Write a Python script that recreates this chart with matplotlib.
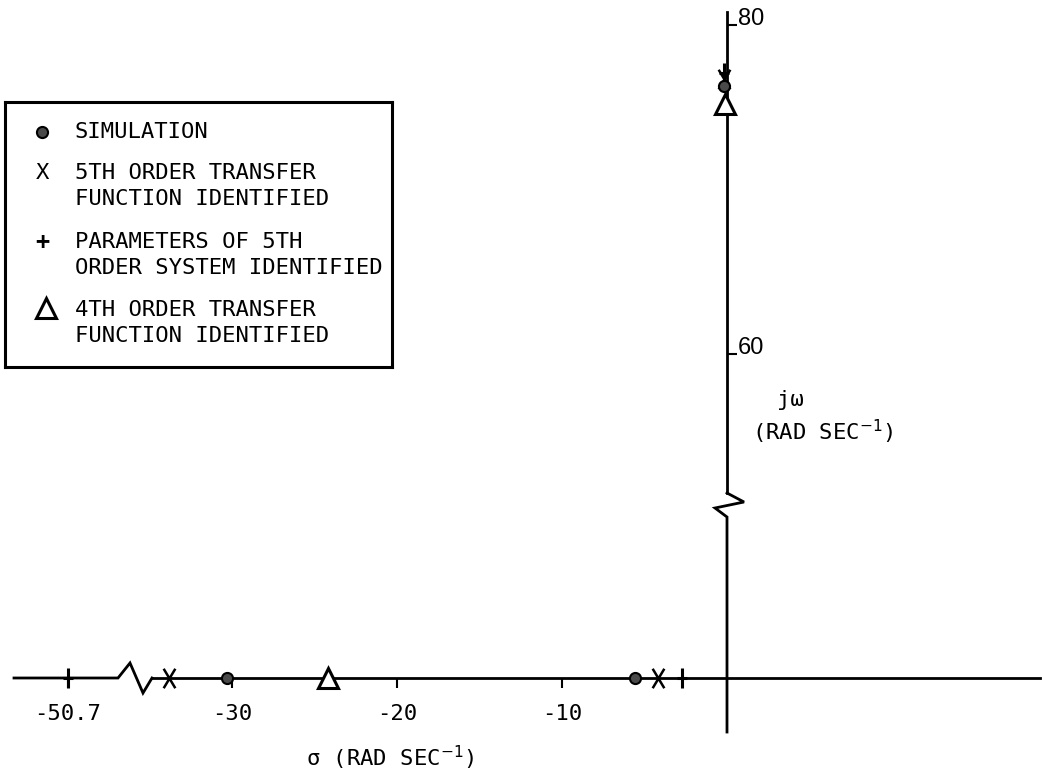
import numpy as np
import matplotlib
matplotlib.use("Agg")
import matplotlib.pyplot as plt
from matplotlib.path import Path

# ---------------- data (s-plane roots, upper half plane) ----------------
sim_re = [-30.3, -5.6, -0.2]
sim_im = [0.0, 0.0, 76.3]
tf5_re = [-33.8, -4.2, -0.2]
tf5_im = [0.0, 0.0, 76.7]
par5_re = [-50.7, -2.7, -0.2]
par5_im = [0.0, 0.0, 77.1]
tf4_re = [-24.2, -0.1]
tf4_im = [0.0, 75.2]

xtick_vals = [-50.7, -30, -20, -10]
xtick_labels = ["-50.7", "-30", "-20", "-10"]
ytick_vals = [60, 80]
ytick_labels = ["60", "80"]

legend_entries = ["SIMULATION",
                  "5TH ORDER TRANSFER\nFUNCTION IDENTIFIED",
                  "PARAMETERS OF 5TH\nORDER SYSTEM IDENTIFIED",
                  "4TH ORDER TRANSFER\nFUNCTION IDENTIFIED"]

# ---------------- broken-axis scales ----------------
XB, SX = -37.2, 0.203   # real axis compressed left of XB
YB, SY = 47.0, 0.1426   # imaginary axis compressed below YB


def fx(x):
    x = np.asarray(x, dtype=float)
    return np.where(x >= XB, x, XB + (x - XB) * SX)


def ifx(u):
    u = np.asarray(u, dtype=float)
    return np.where(u >= XB, u, XB + (u - XB) / SX)


def fy(y):
    y = np.asarray(y, dtype=float)
    return np.where(y >= YB, y, YB + (y - YB) * SY)


def ify(v):
    v = np.asarray(v, dtype=float)
    return np.where(v >= YB, v, YB + (v - YB) / SY)


W, H = 1042, 779
fig = plt.figure(figsize=(W / 100, H / 100), dpi=100)
ax = fig.add_axes([0, 0, 1, 1])
ax.set_xscale('function', functions=(fx, ifx))
ax.set_yscale('function', functions=(fy, ify))

PXU = 16.5   # px per unit
X0 = 727     # px of sigma = 0
PYU = 16.45
Y80 = 25     # px of 80


def u_of_px(px):
    return (px - X0) / PXU


def v_of_px(py):
    return 80 - (py - Y80) / PYU


ax.set_xlim(float(ifx(u_of_px(0))), float(ifx(u_of_px(W))))
ax.set_ylim(float(ify(v_of_px(H))), float(ify(v_of_px(0))))

LW = 2.0
K = 'black'

# spines as axes
for s in ['left', 'top']:
    ax.spines[s].set_visible(False)
ax.spines['bottom'].set_position(('data', 0))
ax.spines['right'].set_position(('data', 0))
ax.spines['bottom'].set_linewidth(LW)
ax.spines['right'].set_linewidth(LW)
ax.spines['bottom'].set_bounds(float(ifx(u_of_px(152))), float(ifx(u_of_px(1040))))
ax.spines['right'].set_bounds(float(ify(v_of_px(493))), float(ify(v_of_px(12))))

# remaining axis segments + break zigzags
zx_px = [14, 118, 130, 143, 152]
zx_py = [678, 678, 663, 693, 678]
ax.plot(ifx([u_of_px(p) for p in zx_px]), ify([v_of_px(p) for p in zx_py]),
        color=K, lw=LW, solid_joinstyle='miter', zorder=2)
zy_px = [727, 744, 715, 727, 727]
zy_py = [493, 502, 508, 517, 732]
ax.plot(ifx([u_of_px(p) for p in zy_px]), ify([v_of_px(p) for p in zy_py]),
        color=K, lw=LW, solid_joinstyle='miter', zorder=2)

# ticks
ax.xaxis.set_ticks_position('bottom')
ax.yaxis.set_ticks_position('right')
ax.set_xticks(xtick_vals)
ax.set_xticklabels(xtick_labels, fontfamily='DejaVu Sans Mono', fontsize=16)
ax.set_yticks(ytick_vals)
ax.set_yticklabels(ytick_labels, fontfamily='Liberation Sans', fontsize=17)
ax.xaxis.set_minor_locator(matplotlib.ticker.NullLocator())
ax.yaxis.set_minor_locator(matplotlib.ticker.NullLocator())
ax.tick_params(axis='x', direction='out', length=7, width=1.5, pad=12, colors=K)
ax.tick_params(axis='y', direction='out', length=7, width=1.5, pad=1, colors=K)
for lbl in ax.get_yticklabels():
    lbl.set_verticalalignment('baseline')

# custom markers
xmark = Path([(-0.6, -1), (0.6, 1), (-0.6, 1), (0.6, -1)],
             [Path.MOVETO, Path.LINETO, Path.MOVETO, Path.LINETO])
pmark = Path([(-0.55, 0), (0.55, 0), (0, -1), (0, 1)],
             [Path.MOVETO, Path.LINETO, Path.MOVETO, Path.LINETO])

ax.plot(tf5_re, tf5_im, ls='none', marker=xmark, ms=14, mew=1.8, color=K, zorder=4)
ax.plot(par5_re, par5_im, ls='none', marker=pmark, ms=14, mew=2.2, color=K, zorder=4)
ax.plot(sim_re, sim_im, ls='none', marker='o', ms=8, mfc='#4a4a4a', mec=K, mew=1.5, zorder=5)
ax.plot(tf4_re, tf4_im, ls='none', marker='^', ms=14, mfc='white', mec=K, mew=2.2, zorder=3)

# axis labels
mono = 'DejaVu Sans Mono'
fig.text(390 / W, 1 - 758 / H, r"σ (RAD SEC$^{-1}$)", ha='center', va='center',
         fontfamily=mono, fontsize=16)
fig.text(790 / W, 1 - 400 / H, "jω", ha='center', va='center', fontfamily=mono, fontsize=16)
fig.text(752 / W, 1 - 432 / H, r"(RAD SEC$^{-1}$)", ha='left', va='center',
         fontfamily=mono, fontsize=16)

# legend box
BX0, BX1, BY0, BY1 = 5, 392, 102, 367
lax = fig.add_axes([BX0 / W, 1 - BY1 / H, (BX1 - BX0) / W, (BY1 - BY0) / H])
lax.set_xlim(BX0, BX1)
lax.set_ylim(BY1, BY0)
lax.set_xticks([])
lax.set_yticks([])
for s in lax.spines.values():
    s.set_linewidth(2.2)
mx = 42
rows = [132, 173, 242, 310]
lax.plot([mx], [rows[0]], ls='none', marker='o', ms=8, mfc='#4a4a4a', mec=K, mew=1.5)
lax.text(mx, rows[1], "X", ha='center', va='center', fontfamily=mono, fontsize=16)
lax.text(mx, rows[2], "+", ha='center', va='center', fontfamily=mono, fontsize=17,
         fontweight='bold')
lax.plot([mx + 4], [rows[3] - 2], ls='none', marker='^', ms=14, mfc='white', mec=K, mew=2.2)
for r, t in zip(rows, legend_entries):
    lax.text(75, r - 10, t, ha='left', va='top', fontfamily=mono, fontsize=16,
             linespacing=1.4)

fig.savefig("out.png", dpi=100)
